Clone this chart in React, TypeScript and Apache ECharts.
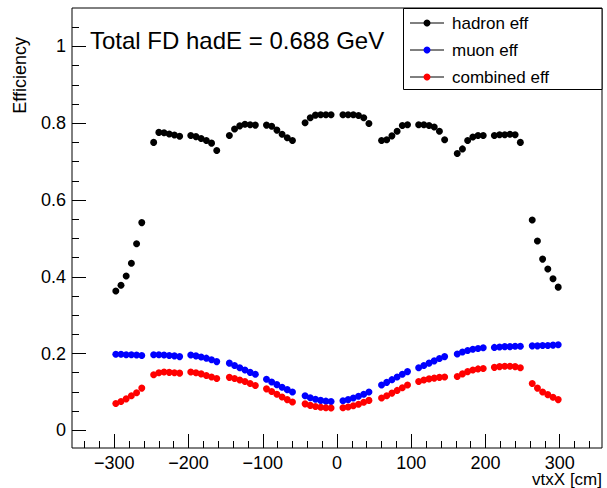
import React, { useEffect, useRef } from "react";
import * as echarts from "echarts";

// ---- data ----
const vtxX = [
  -298, -291, -284, -277, -270, -263,
  -247, -240, -233, -226, -219, -212,
  -197, -190, -183, -176, -169, -162,
  -145, -138, -131, -124, -117, -110,
  -95, -88, -81, -74, -67, -60,
  -43, -36, -29, -22, -15, -8,
  8, 15, 22, 29, 36, 43,
  60, 67, 74, 81, 88, 95,
  110, 117, 124, 131, 138, 145,
  162, 169, 176, 183, 190, 197,
  212, 219, 226, 233, 240, 247,
  263, 270, 277, 284, 291, 298,
];

const hadronEff = [
  0.363, 0.378, 0.402, 0.435, 0.486, 0.541,
  0.75, 0.776, 0.775, 0.772, 0.769, 0.766,
  0.768, 0.765, 0.76, 0.755, 0.748, 0.729,
  0.768, 0.785, 0.793, 0.797, 0.796, 0.795,
  0.795, 0.792, 0.782, 0.771, 0.762, 0.755,
  0.801, 0.814, 0.821, 0.822, 0.822, 0.822,
  0.822, 0.822, 0.822, 0.82, 0.814, 0.799,
  0.755, 0.757, 0.767, 0.779, 0.794, 0.796,
  0.796, 0.796, 0.794, 0.79, 0.779, 0.757,
  0.721, 0.733, 0.755, 0.764, 0.768, 0.768,
  0.768, 0.77, 0.77, 0.771, 0.77, 0.75,
  0.548, 0.493, 0.446, 0.42, 0.395, 0.373,
];

const muonEff = [
  0.198, 0.198, 0.197, 0.197, 0.196, 0.195,
  0.197, 0.197, 0.196, 0.195, 0.194, 0.192,
  0.196, 0.194, 0.191, 0.188, 0.184, 0.179,
  0.175, 0.169, 0.163, 0.157, 0.151, 0.146,
  0.133, 0.126, 0.119, 0.112, 0.106, 0.1,
  0.09, 0.085, 0.081, 0.078, 0.076, 0.075,
  0.077, 0.08, 0.084, 0.089, 0.094, 0.1,
  0.118, 0.125, 0.132, 0.139, 0.146, 0.153,
  0.163, 0.169, 0.175, 0.181, 0.187, 0.192,
  0.199, 0.204, 0.208, 0.211, 0.213, 0.215,
  0.216, 0.217, 0.218, 0.218, 0.219, 0.219,
  0.22, 0.22, 0.221, 0.221, 0.222, 0.223,
];

const combinedEff = [
  0.07, 0.075, 0.082, 0.09, 0.098, 0.11,
  0.145, 0.15, 0.152, 0.151, 0.15, 0.149,
  0.152, 0.15, 0.147, 0.143, 0.139, 0.135,
  0.138, 0.135, 0.131, 0.127, 0.122, 0.117,
  0.108, 0.101, 0.094, 0.087, 0.08, 0.074,
  0.069, 0.065, 0.062, 0.06, 0.059, 0.058,
  0.059, 0.061, 0.064, 0.068, 0.073, 0.078,
  0.084, 0.09, 0.097, 0.104, 0.111, 0.118,
  0.127, 0.131, 0.134, 0.136, 0.138, 0.139,
  0.14, 0.147, 0.153, 0.157, 0.16, 0.161,
  0.164, 0.166, 0.167, 0.167, 0.166, 0.163,
  0.122, 0.11, 0.1, 0.093, 0.086, 0.08,
];

const seriesNames = ["hadron eff", "muon eff", "combined eff"];
const seriesColors = ["#000000", "#0000ff", "#ff0000"];

const xMajorTicks = [-300, -200, -100, 0, 100, 200, 300];
const xMinorTicks = [
  -340, -320, -280, -260, -240, -220, -180, -160, -140, -120, -80, -60, -40, -20,
  20, 40, 60, 80, 120, 140, 160, 180, 220, 240, 260, 280, 320, 340,
];
const yMajorTicks = [0, 0.2, 0.4, 0.6, 0.8, 1.0];
const yMinorTicks = [
  0.05, 0.1, 0.15, 0.25, 0.3, 0.35, 0.45, 0.5, 0.55, 0.65, 0.7, 0.75, 0.85, 0.9, 0.95, 1.05,
];

const titleText = "Total FD hadE = 0.688 GeV";
const xTitle = "vtxX [cm]";
const yTitle = "Efficiency";

const FONT = "Liberation Sans, Arial, Helvetica, sans-serif";

export default function App() {
  const ref = useRef<HTMLDivElement>(null);

  useEffect(() => {
    if (!ref.current) return;
    const chart = echarts.init(ref.current, undefined, { renderer: "svg" });

    const xMin = -357;
    const xMax = 357;
    const yMin = -0.046;
    const yMax = 1.1;

    const allSeries = [hadronEff, muonEff, combinedEff].map((vals, i) => ({
      name: seriesNames[i],
      type: "scatter",
      xAxisIndex: 0,
      yAxisIndex: 0,
      symbol: "circle",
      symbolSize: 7,
      itemStyle: { color: seriesColors[i], opacity: 1 },
      emphasis: { disabled: true },
      data: vals.map((v, j) => [vtxX[j], v]),
      z: 3 + i,
    }));

    const legendGraphics: any[] = [
      {
        type: "rect",
        shape: { x: 403.5, y: 8.5, width: 198.5, height: 81 },
        style: { fill: "#ffffff", stroke: "#000000", lineWidth: 1 },
        z: 100,
      },
    ];
    const entryY = [23, 50, 77];
    seriesNames.forEach((name, i) => {
      legendGraphics.push(
        {
          type: "line",
          shape: { x1: 410, y1: entryY[i], x2: 444, y2: entryY[i] },
          style: { stroke: "#000000", lineWidth: 1 },
          z: 101,
        },
        {
          type: "circle",
          shape: { cx: 427, cy: entryY[i], r: 3.5 },
          style: { fill: seriesColors[i] },
          z: 102,
        },
        {
          type: "text",
          x: 452,
          y: entryY[i],
          style: {
            text: name,
            fontSize: 17,
            fontFamily: FONT,
            fill: "#000000",
            align: "left",
            verticalAlign: "middle",
          },
          z: 102,
        }
      );
    });

    const tickStyle = { color: "#000000", width: 1 };

    const option: any = {
      animation: false,
      backgroundColor: "#ffffff",
      grid: {
        left: 72,
        right: 5,
        top: 8,
        bottom: 40,
        show: true,
        borderColor: "#000000",
        borderWidth: 1,
        backgroundColor: "transparent",
        containLabel: false,
      },
      xAxis: [
        {
          type: "value",
          min: xMin,
          max: xMax,
          position: "bottom",
          axisLine: { show: false, onZero: false },
          splitLine: { show: false },
          axisTick: {
            show: true,
            inside: true,
            length: 14,
            customValues: xMajorTicks,
            lineStyle: tickStyle,
          },
          axisLabel: {
            show: true,
            customValues: xMajorTicks,
            margin: 6,
            fontSize: 18,
            fontFamily: FONT,
            color: "#000000",
            formatter: (v: number) => String(v).replace("-", "\u2212"),
          },
        },
        {
          type: "value",
          min: xMin,
          max: xMax,
          position: "bottom",
          axisLine: { show: false, onZero: false },
          splitLine: { show: false },
          axisTick: {
            show: true,
            inside: true,
            length: 7,
            customValues: xMinorTicks,
            lineStyle: tickStyle,
          },
          axisLabel: { show: false },
        },
      ],
      yAxis: [
        {
          type: "value",
          min: yMin,
          max: yMax,
          position: "left",
          axisLine: { show: false, onZero: false },
          splitLine: { show: false },
          axisTick: {
            show: true,
            inside: true,
            length: 14,
            customValues: yMajorTicks,
            lineStyle: tickStyle,
          },
          axisLabel: {
            show: true,
            customValues: yMajorTicks,
            margin: 6,
            fontSize: 18,
            fontFamily: FONT,
            color: "#000000",
            formatter: (v: number) => String(Math.round(v * 10) / 10),
          },
        },
        {
          type: "value",
          min: yMin,
          max: yMax,
          position: "left",
          axisLine: { show: false, onZero: false },
          splitLine: { show: false },
          axisTick: {
            show: true,
            inside: true,
            length: 7,
            customValues: yMinorTicks,
            lineStyle: tickStyle,
          },
          axisLabel: { show: false },
        },
      ],
      series: allSeries,
      graphic: [
        {
          type: "text",
          x: 90,
          y: 40,
          style: {
            text: titleText,
            fontSize: 24,
            fontFamily: FONT,
            fill: "#000000",
            align: "left",
            verticalAlign: "middle",
          },
          z: 90,
        },
        {
          type: "text",
          x: 602,
          y: 479,
          style: {
            text: xTitle,
            fontSize: 17,
            fontFamily: FONT,
            fill: "#000000",
            align: "right",
            verticalAlign: "middle",
          },
        },
        {
          type: "text",
          x: 20,
          y: 37,
          rotation: Math.PI / 2,
          style: {
            text: yTitle,
            fontSize: 18,
            fontFamily: FONT,
            fill: "#000000",
            align: "right",
            verticalAlign: "middle",
          },
        },
        ...legendGraphics,
      ],
    };

    chart.setOption(option);
    return () => {
      chart.dispose();
    };
  }, []);

  return (
    <div
      ref={ref}
      style={{ position: "fixed", left: 0, top: 0, width: 607, height: 488, background: "#fff" }}
    />
  );
}
